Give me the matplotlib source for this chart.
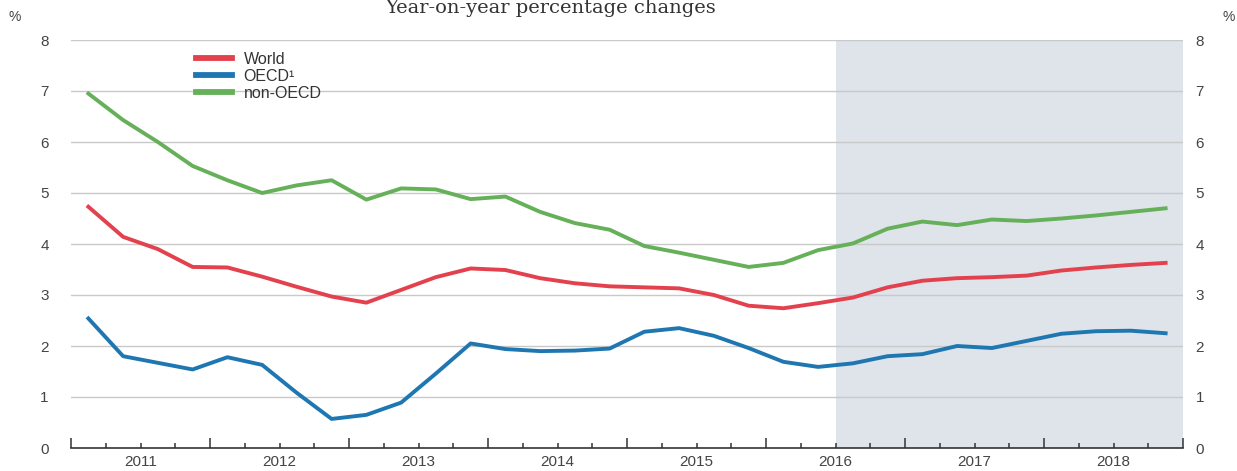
import numpy as np
import matplotlib
matplotlib.use("Agg")
import matplotlib.pyplot as plt

# Quarterly data, 2011Q1 - 2018Q4 (year-on-year % changes)
years = list(range(2011, 2019))
quarters_per_year = 4
world = [4.73, 4.14, 3.90, 3.55, 3.54, 3.36, 3.16, 2.97,
         2.85, 3.10, 3.35, 3.52, 3.49, 3.33, 3.23, 3.17,
         3.15, 3.13, 3.00, 2.79, 2.74, 2.84, 2.95, 3.15,
         3.28, 3.33, 3.35, 3.38, 3.48, 3.54, 3.59, 3.63]
oecd = [2.54, 1.80, 1.67, 1.54, 1.78, 1.63, 1.08, 0.57,
        0.65, 0.89, 1.46, 2.05, 1.94, 1.90, 1.91, 1.95,
        2.28, 2.35, 2.20, 1.96, 1.69, 1.59, 1.66, 1.80,
        1.84, 2.00, 1.96, 2.10, 2.24, 2.29, 2.30, 2.25]
non_oecd = [6.95, 6.43, 6.00, 5.53, 5.25, 5.00, 5.15, 5.25,
            4.87, 5.09, 5.07, 4.88, 4.93, 4.63, 4.41, 4.28,
            3.96, 3.83, 3.69, 3.55, 3.63, 3.88, 4.01, 4.30,
            4.44, 4.37, 4.48, 4.45, 4.50, 4.56, 4.63, 4.70]
series_labels = ["World", "OECD\u00b9", "non-OECD"]
projection_start = 2016.5
y_ticks = [0, 1, 2, 3, 4, 5, 6, 7, 8]

colors = ["#e3414d", "#1f77b1", "#66b05a"]

# quarter mid points
x = np.array([y + (q + 0.5) / quarters_per_year for y in years for q in range(quarters_per_year)])

fig = plt.figure(figsize=(12.37, 4.71), dpi=100)
ax = fig.add_axes([71 / 1237, 1 - 448 / 471, (1183 - 71) / 1237, 408 / 471])

x0, x1 = years[0], years[-1] + 1
ax.axvspan(projection_start, x1, color="#dfe3ea", lw=0, zorder=0)

for vals, lab, c in zip([world, oecd, non_oecd], series_labels, colors):
    ax.plot(x, vals, color=c, lw=2.8, label=lab, zorder=3, solid_joinstyle="round")

ax.set_xlim(x0, x1)
ax.set_ylim(0, 8)

# grid
for v in y_ticks[1:]:
    ax.axhline(v, color="#c9c9c9", lw=1.0, zorder=1)

for s in ["top", "right", "left"]:
    ax.spines[s].set_visible(False)
ax.spines["bottom"].set_color("#333333")
ax.spines["bottom"].set_linewidth(1.2)

ax.set_yticks(y_ticks)
ax.tick_params(axis="y", length=0, labelsize=11, labelcolor="#444444", pad=16)
for lab in ax.get_yticklabels():
    lab.set_fontfamily("Liberation Sans")

# right-hand labels
ax2 = ax.twinx()
ax2.set_ylim(0, 8)
ax2.set_yticks(y_ticks)
ax2.tick_params(axis="y", length=0, labelsize=11, labelcolor="#444444", pad=9)
for lab in ax2.get_yticklabels():
    lab.set_fontfamily("Liberation Sans")
for s in ax2.spines.values():
    s.set_visible(False)

# x ticks: tall at year boundaries, small at quarter boundaries
ax.set_xticks(np.arange(x0, x1 + 1), labels=[""] * (x1 - x0 + 1))
minor_pos = [y + f for y in years for f in (0.25, 0.5, 0.75)]
minor_lab = [str(y) if f == 0.5 else "" for y in years for f in (0.25, 0.5, 0.75)]
ax.set_xticks(minor_pos, labels=minor_lab, minor=True)
ax.tick_params(axis="x", which="major", direction="in", length=7, width=1.1, color="#333333")
ax.tick_params(axis="x", which="minor", direction="in", length=3.5, width=1.1, color="#333333",
               labelsize=11, labelcolor="#444444", pad=5)
for lab in ax.get_xticklabels(minor=True):
    lab.set_fontfamily("Liberation Sans")

leg = ax.legend(loc="upper left", bbox_to_anchor=(0.105, 0.99), frameon=False,
                handlelength=2.3, handletextpad=0.7, labelspacing=0.12, borderpad=0,
                prop={"family": "Liberation Sans", "size": 11.5})
for h in leg.get_lines():
    h.set_linewidth(4.2)
for t in leg.get_texts():
    t.set_color("#333333")

fig.text(15 / 1237, 1 - 17 / 471, "%", ha="center", va="center", fontsize=10,
         color="#444444", family="Liberation Sans")
fig.text(1229 / 1237, 1 - 17 / 471, "%", ha="center", va="center", fontsize=10,
         color="#444444", family="Liberation Sans")
fig.text(551 / 1237, 1 - 8 / 471, "Year-on-year percentage changes", ha="center", va="center",
         fontsize=14, color="#333333", family="DejaVu Serif")

fig.savefig("out.png", dpi=100)
